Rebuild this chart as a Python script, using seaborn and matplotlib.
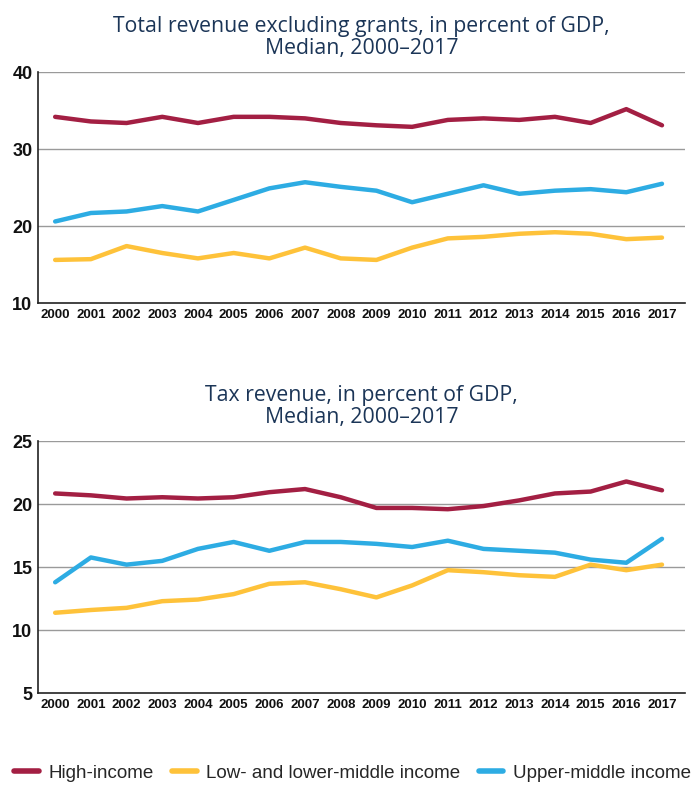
import numpy as np
import pandas as pd
import seaborn as sns
import matplotlib.pyplot as plt
from matplotlib.lines import Line2D

years = [str(y) for y in range(2000, 2018)]
groups = ["High-income", "Low- and lower-middle income", "Upper-middle income"]

rev_high = [34.2, 33.6, 33.4, 34.2, 33.4, 34.2, 34.2, 34.0, 33.4, 33.1, 32.9, 33.8, 34.0, 33.8, 34.2, 33.4, 35.2, 33.1]
rev_low = [15.6, 15.7, 17.4, 16.5, 15.8, 16.5, 15.8, 17.2, 15.8, 15.6, 17.2, 18.4, 18.6, 19.0, 19.2, 19.0, 18.3, 18.5]
rev_upper = [20.6, 21.7, 21.9, 22.6, 21.9, 23.4, 24.9, 25.7, 25.1, 24.6, 23.1, 24.2, 25.3, 24.2, 24.6, 24.8, 24.4, 25.5]

tax_high = [20.85, 20.7, 20.45, 20.55, 20.45, 20.55, 20.95, 21.2, 20.55, 19.7, 19.7, 19.6, 19.85, 20.3, 20.85, 21.0, 21.8, 21.1]
tax_low = [11.38, 11.6, 11.77, 12.3, 12.43, 12.86, 13.68, 13.8, 13.25, 12.6, 13.55, 14.76, 14.6, 14.36, 14.23, 15.2, 14.76, 15.2]
tax_upper = [13.8, 15.77, 15.2, 15.5, 16.45, 17.0, 16.3, 17.0, 17.0, 16.85, 16.6, 17.1, 16.45, 16.3, 16.15, 15.6, 15.35, 17.25]

titles = ["Total revenue excluding grants, in percent of GDP,\nMedian, 2000\u20132017",
          "Tax revenue, in percent of GDP,\nMedian, 2000\u20132017"]
yticks_top = [10, 20, 30, 40]
yticks_bot = [5, 10, 15, 20, 25]

colors = {"High-income": "#A31F43", "Low- and lower-middle income": "#FEC23A",
          "Upper-middle income": "#2DACE3"}

def long_df(h, l, u):
    rows = []
    for g, vals in zip(groups, [h, l, u]):
        for i, v in enumerate(vals):
            rows.append({"idx": i, "year": years[i], "group": g, "value": v})
    return pd.DataFrame(rows)

sns.set_style("white")
tick_font = ["Liberation Sans", "DejaVu Sans"]
title_font = ["Open Sans", "DejaVu Sans"]

fig = plt.figure(figsize=(6.94, 7.85), dpi=100)
ax1 = fig.add_axes([0.0548, 0.614, 0.932, 0.294])
ax2 = fig.add_axes([0.0548, 0.117, 0.932, 0.321])

for ax, (h, l, u), yt, title in [
    (ax1, (rev_high, rev_low, rev_upper), yticks_top, titles[0]),
    (ax2, (tax_high, tax_low, tax_upper), yticks_bot, titles[1]),
]:
    df = long_df(h, l, u)
    sns.lineplot(data=df, x="idx", y="value", hue="group", palette=colors,
                 linewidth=3.2, ax=ax, legend=False, solid_capstyle="round")
    ax.set_xlim(-0.48, 17.64)
    ax.set_ylim(yt[0], yt[-1])
    ax.set_yticks(yt)
    ax.set_yticklabels([str(v) for v in yt], fontsize=13, family=tick_font, fontweight="bold")
    ax.set_xticks(range(len(years)))
    ax.set_xticklabels(years, fontsize=9.5, family=tick_font, fontweight="bold")
    ax.set_xlabel("")
    ax.set_ylabel("")
    for y in yt[1:]:
        ax.axhline(y, color="#9a9a9a", linewidth=1.0, zorder=0)
    for s in ["top", "right"]:
        ax.spines[s].set_visible(False)
    for s in ["left", "bottom"]:
        ax.spines[s].set_color("#222222")
        ax.spines[s].set_linewidth(1.2)
    ax.tick_params(axis="both", length=0, pad=4, colors="#111111")
    ax.set_title(title, fontsize=15.3, family=title_font, color="#1B3557",
                 pad=13, linespacing=1.1)

handles = [Line2D([0], [0], color=colors[g], linewidth=4, solid_capstyle="round") for g in groups]
fig.legend(handles, groups, loc="center", bbox_to_anchor=(0.508, 0.015), ncol=3,
           frameon=False, prop={"family": tick_font, "size": 13.5},
           handlelength=1.3, handletextpad=0.5, columnspacing=1.0)

fig.savefig("out.png", dpi=100)
